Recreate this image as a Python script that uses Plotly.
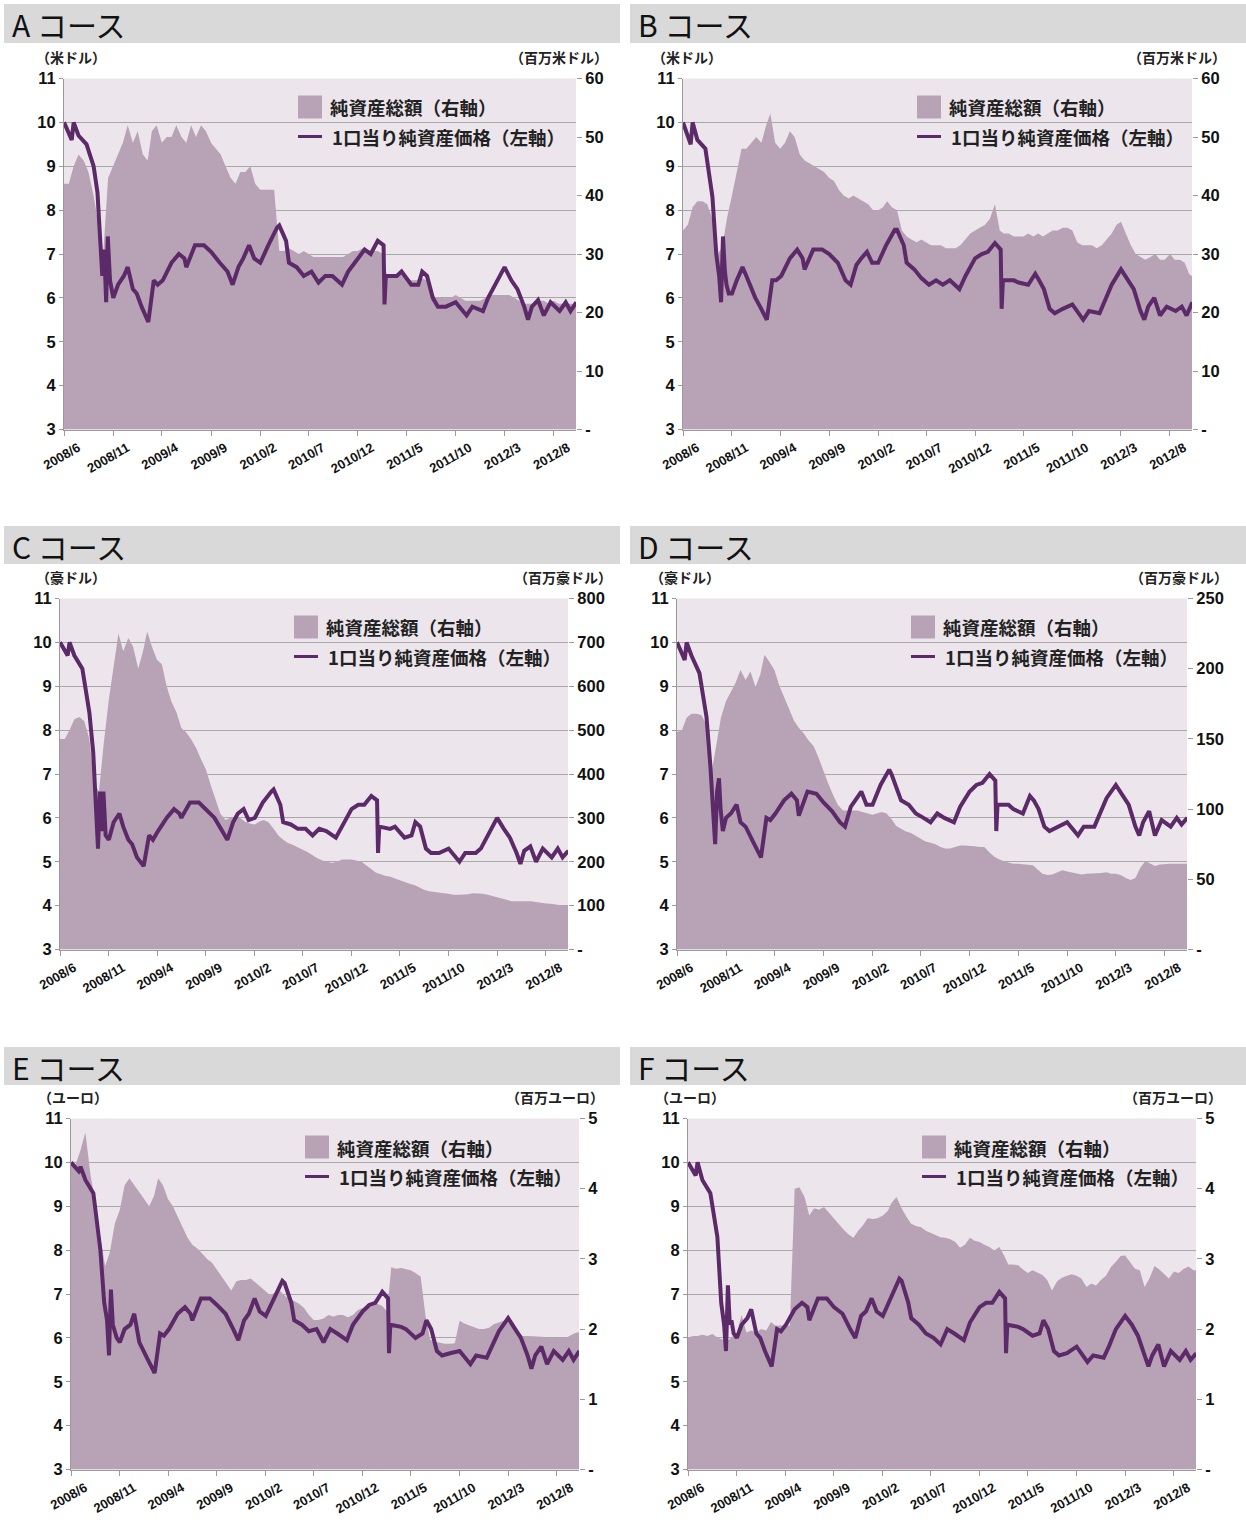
import plotly.graph_objects as go

# ---------------- data ----------------
tick_dates = ["2008-06-01", "2008-11-01", "2009-04-01", "2009-09-01", "2010-02-01", "2010-07-01",
              "2010-12-01", "2011-05-01", "2011-10-01", "2012-03-01", "2012-08-01"]
tick_labels = ["2008/6", "2008/11", "2009/4", "2009/9", "2010/2", "2010/7",
               "2010/12", "2011/5", "2011/10", "2012/3", "2012/8"]

courses = ["A", "B", "C", "D", "E", "F"]
legend_area = "純資産総額（右軸）"
legend_line = "1口当り純資産価格（左軸）"
unit_left = ["（米ドル）", "（米ドル）", "（豪ドル）", "（豪ドル）", "（ユーロ）", "（ユーロ）"]
unit_right = ["（百万米ドル）", "（百万米ドル）", "（百万豪ドル）", "（百万豪ドル）", "（百万ユーロ）", "（百万ユーロ）"]
right_ticks = [
    [0, 10, 20, 30, 40, 50, 60],
    [0, 10, 20, 30, 40, 50, 60],
    [0, 100, 200, 300, 400, 500, 600, 700, 800],
    [0, 50, 100, 150, 200, 250],
    [0, 1, 2, 3, 4, 5],
    [0, 1, 2, 3, 4, 5],
]
left_ticks = [3, 4, 5, 6, 7, 8, 9, 10, 11]

# dates of the NAV readings (per-unit net asset value, left axis)
nav_dates = [
    "2008-06-01", "2008-06-25", "2008-07-01", "2008-07-16", "2008-08-10", "2008-09-01", "2008-09-13", "2008-09-22", "2008-09-28", "2008-10-04",
    "2008-10-10", "2008-10-15", "2008-10-22", "2008-11-01", "2008-11-16", "2008-12-04", "2008-12-16", "2009-01-01", "2009-01-13", "2009-01-28",
    "2009-02-18", "2009-03-07", "2009-03-19", "2009-04-04", "2009-05-01", "2009-05-24", "2009-06-10", "2009-06-16", "2009-07-13", "2009-08-10",
    "2009-09-01", "2009-09-28", "2009-10-22", "2009-11-07", "2009-11-25", "2009-12-10", "2009-12-28", "2010-01-13", "2010-02-01", "2010-02-26",
    "2010-03-25", "2010-04-01", "2010-04-22", "2010-05-01", "2010-05-25", "2010-06-16", "2010-07-10", "2010-08-01", "2010-08-22", "2010-09-13",
    "2010-10-13", "2010-11-01", "2010-12-01", "2010-12-22", "2011-01-10", "2011-02-01", "2011-02-19", "2011-02-22", "2011-02-26", "2011-04-01",
    "2011-04-16", "2011-05-16", "2011-06-07", "2011-06-19", "2011-07-04", "2011-07-22", "2011-08-07", "2011-09-01", "2011-10-01", "2011-11-04",
    "2011-11-22", "2011-12-25", "2012-01-10", "2012-02-01", "2012-03-01", "2012-03-22", "2012-04-10", "2012-05-01", "2012-05-13", "2012-05-25",
    "2012-06-13", "2012-07-01", "2012-07-22", "2012-08-19", "2012-09-07", "2012-09-22", "2012-10-10",
]

nav_A = [10.0, 9.6, 10.0, 9.7, 9.5, 9.0, 8.4, 7.0, 6.5, 7.1,
         5.9, 7.4, 6.4, 6.0, 6.3, 6.5, 6.7, 6.2, 6.1, 5.8,
         5.45, 6.4, 6.3, 6.4, 6.8, 7.0, 6.9, 6.7, 7.2, 7.2,
         7.05, 6.8, 6.6, 6.3, 6.7, 6.9, 7.2, 6.9, 6.8, 7.2,
         7.6, 7.65, 7.3, 6.8, 6.7, 6.5, 6.6, 6.35, 6.5, 6.5,
         6.3, 6.6, 6.9, 7.1, 7.0, 7.3, 7.2, 5.85, 6.5, 6.5,
         6.6, 6.3, 6.3, 6.6, 6.5, 6.0, 5.8, 5.8, 5.9, 5.6,
         5.8, 5.7, 6.0, 6.3, 6.7, 6.4, 6.2, 5.8, 5.5, 5.8,
         5.95, 5.6, 5.9, 5.7, 5.9, 5.7, 5.9]
nav_B = [10.0, 9.5, 10.0, 9.6, 9.4, 8.3, 7.0, 6.5, 5.9, 7.4,
         6.6, 6.3, 6.1, 6.1, 6.4, 6.7, 6.5, 6.2, 6.0, 5.8,
         5.5, 6.4, 6.4, 6.5, 6.9, 7.1, 6.9, 6.65, 7.1, 7.1,
         7.0, 6.8, 6.4, 6.3, 6.75, 6.9, 7.05, 6.8, 6.8, 7.2,
         7.55, 7.55, 7.2, 6.8, 6.65, 6.45, 6.3, 6.4, 6.3, 6.4,
         6.2, 6.5, 6.9, 7.0, 7.05, 7.25, 7.1, 5.75, 6.4, 6.4,
         6.35, 6.3, 6.55, 6.4, 6.2, 5.75, 5.65, 5.75, 5.85, 5.5,
         5.7, 5.65, 5.95, 6.3, 6.65, 6.4, 6.2, 5.7, 5.5, 5.8,
         6.0, 5.6, 5.8, 5.7, 5.8, 5.6, 5.9]
nav_C = [10.0, 9.7, 10.0, 9.7, 9.4, 8.4, 7.5, 6.2, 5.3, 6.6,
         5.7, 6.6, 5.6, 5.5, 5.9, 6.1, 5.8, 5.5, 5.4, 5.1,
         4.9, 5.6, 5.5, 5.7, 6.0, 6.2, 6.1, 6.0, 6.35, 6.35,
         6.2, 6.0, 5.7, 5.5, 5.9, 6.1, 6.2, 5.95, 6.0, 6.35,
         6.6, 6.65, 6.3, 5.9, 5.85, 5.75, 5.75, 5.6, 5.75, 5.7,
         5.55, 5.8, 6.2, 6.3, 6.3, 6.5, 6.4, 5.2, 5.8, 5.75,
         5.8, 5.55, 5.6, 5.9, 5.8, 5.3, 5.2, 5.2, 5.3, 5.0,
         5.2, 5.2, 5.3, 5.6, 6.0, 5.75, 5.55, 5.2, 4.95, 5.25,
         5.35, 5.0, 5.3, 5.1, 5.3, 5.1, 5.25]
nav_D = [10.0, 9.6, 10.0, 9.7, 9.3, 8.3, 7.2, 6.0, 5.4, 6.6,
         6.9, 6.2, 5.7, 6.0, 6.1, 6.3, 5.9, 5.8, 5.6, 5.4,
         5.1, 6.0, 5.95, 6.1, 6.4, 6.55, 6.4, 6.05, 6.6, 6.55,
         6.35, 6.15, 5.9, 5.8, 6.25, 6.4, 6.6, 6.3, 6.3, 6.75,
         7.1, 7.0, 6.6, 6.4, 6.3, 6.1, 6.0, 5.9, 6.1, 6.0,
         5.9, 6.25, 6.6, 6.75, 6.8, 7.0, 6.85, 5.7, 6.3, 6.3,
         6.2, 6.1, 6.5, 6.4, 6.2, 5.8, 5.7, 5.8, 5.9, 5.6,
         5.8, 5.8, 6.1, 6.45, 6.75, 6.5, 6.3, 5.8, 5.6, 5.9,
         6.15, 5.6, 5.95, 5.8, 6.0, 5.85, 6.0]
nav_E = [10.0, 9.8, 9.9, 9.6, 9.3, 8.0, 6.8, 6.4, 5.6, 7.1,
         6.3, 6.2, 6.0, 5.9, 6.2, 6.3, 6.55, 5.9, 5.7, 5.5,
         5.2, 6.1, 6.05, 6.2, 6.55, 6.7, 6.55, 6.4, 6.9, 6.9,
         6.75, 6.55, 6.2, 5.95, 6.4, 6.55, 6.9, 6.6, 6.5, 6.9,
         7.3, 7.25, 6.8, 6.4, 6.3, 6.15, 6.2, 5.9, 6.2, 6.1,
         5.95, 6.3, 6.6, 6.75, 6.8, 7.05, 6.9, 5.65, 6.3, 6.25,
         6.2, 6.0, 6.1, 6.4, 6.2, 5.7, 5.6, 5.65, 5.7, 5.4,
         5.6, 5.55, 5.8, 6.15, 6.45, 6.2, 6.0, 5.6, 5.3, 5.6,
         5.8, 5.4, 5.7, 5.5, 5.7, 5.5, 5.7]
nav_F = [10.0, 9.7, 10.0, 9.6, 9.3, 8.3, 6.8, 6.3, 5.7, 7.2,
         6.3, 6.4, 6.1, 6.0, 6.3, 6.45, 6.65, 6.1, 6.0, 5.7,
         5.35, 6.2, 6.15, 6.3, 6.65, 6.8, 6.7, 6.4, 6.9, 6.9,
         6.7, 6.55, 6.2, 6.0, 6.5, 6.6, 6.9, 6.6, 6.5, 6.9,
         7.35, 7.3, 6.8, 6.45, 6.3, 6.1, 6.0, 5.85, 6.2, 6.1,
         5.95, 6.35, 6.7, 6.8, 6.8, 7.05, 6.9, 5.65, 6.3, 6.25,
         6.2, 6.05, 6.1, 6.4, 6.2, 5.7, 5.6, 5.65, 5.8, 5.45,
         5.6, 5.55, 5.8, 6.2, 6.5, 6.3, 6.05, 5.6, 5.35, 5.6,
         5.85, 5.35, 5.7, 5.5, 5.7, 5.5, 5.65]

# dates of the total-net-assets readings (1st and 16th of each month, right axis)
total_dates = []
for k in range(106):
    mi = 5 + k // 2
    total_dates.append(f"{2008 + mi // 12}-{mi % 12 + 1:02d}-{1 if k % 2 == 0 else 16:02d}")

total_A = [42, 42, 45, 47, 46, 44, 40, 35, 30, 43,
           45, 47, 49, 52, 49, 51, 47, 46, 51, 52,
           49, 50, 50, 52, 50, 49, 52, 50, 52, 51,
           49, 48, 47, 45, 43, 42, 44, 44, 45, 42,
           41, 41, 41, 41, 30.5, 30.5, 31, 30.5, 30, 30.5,
           30, 29.5, 29.5, 29.5, 29.5, 29.5, 29.5, 29.5, 30, 30.5,
           30.5, 31, 30.5, 30.5, 30.5, 30, 26.5, 26.5, 26.5, 26.5,
           26, 25.5, 25.5, 26, 25.5, 23.5, 22.5, 22.5, 22.5, 22.5,
           23, 22.5, 22, 22, 22, 22, 22.5, 23, 23, 23,
           23, 23, 22.5, 22, 21.5, 21.5, 21.5, 22, 22, 21.5,
           22, 21.5, 21.5, 21.5, 21.5, 21.5]
total_B = [34, 35, 38, 39, 39, 38.5, 36, 30, 31, 36,
           40, 44, 48, 48, 49, 50, 49, 52, 54, 49,
           48, 49, 51, 50, 47, 46, 45.5, 45, 44.5, 44,
           43, 42.5, 41, 40, 39.5, 40, 39.5, 39, 38.5, 37.5,
           37.5, 38, 39, 38, 37.5, 34, 33, 32.5, 32, 32.5,
           32, 31.5, 31.5, 31.5, 31, 31, 31, 31.5, 32.5, 33.5,
           34, 34.5, 35, 36, 38.5, 34, 33.5, 33.5, 33, 33,
           33, 33.5, 33, 33.5, 33, 33.5, 34, 34, 34.5, 34.5,
           34, 32, 31.5, 31.5, 31.5, 31, 31.5, 32.5, 33.5, 35,
           35.5, 33.5, 31.5, 30, 29.5, 29, 29.5, 30, 29, 29,
           30, 29, 29, 28.5, 26.5, 26]
total_C = [480, 480, 500, 525, 530, 520, 480, 380, 360, 470,
           570, 640, 720, 680, 710, 690, 640, 680, 725, 690,
           660, 650, 600, 565, 540, 505, 495, 480, 460, 435,
           410, 375, 340, 310, 295, 300, 300, 300, 292, 287,
           285, 292, 295, 290, 275, 260, 250, 243, 238, 233,
           228, 222, 215, 208, 203, 200, 197, 200, 205, 205,
           205, 203, 200, 192, 183, 175, 172, 168, 166, 162,
           158, 153, 150, 147, 142, 136, 133, 131, 130, 128,
           127, 125, 125, 125, 126, 128, 128, 127, 125, 122,
           118, 115, 112, 110, 110, 110, 110, 110, 108, 106,
           105, 104, 102, 101, 100, 100]
total_D = [155, 156, 165, 168, 168, 167, 160, 125, 145, 165,
           177, 183, 190, 199, 192, 198, 187, 196, 210, 205,
           199, 188, 180, 172, 163, 158, 154, 149, 145, 137,
           127, 118, 110, 103, 99, 99, 99, 99, 98, 97,
           96, 97, 98, 97, 93, 88, 86, 84, 83, 81,
           79, 77, 76, 75, 73, 72, 72, 73, 74, 74,
           73.5, 73.5, 73, 73, 69, 66, 64.5, 63, 62, 61,
           61, 60.5, 60, 60, 57, 54, 53, 53.5, 55, 56.5,
           55.5, 55, 54, 53.5, 54, 54, 54, 54.5, 55, 54,
           54, 53, 51, 49.5, 51, 58, 63, 61, 59.5, 60.5,
           61, 61, 61, 61, 61, 61]
total_E = [4.35, 4.35, 4.55, 4.8, 4.2, 3.8, 3.3, 2.9, 3.1, 3.5,
           3.7, 4.05, 4.15, 4.05, 3.95, 3.85, 3.75, 3.9, 4.15, 4.05,
           3.85, 3.75, 3.6, 3.45, 3.3, 3.2, 3.15, 3.08, 3.0, 2.95,
           2.85, 2.75, 2.65, 2.55, 2.68, 2.7, 2.7, 2.72, 2.66, 2.6,
           2.55, 2.48, 2.52, 2.55, 2.48, 2.43, 2.4, 2.36, 2.3, 2.2,
           2.13, 2.13, 2.15, 2.2, 2.18, 2.2, 2.2, 2.17, 2.2, 2.27,
           2.3, 2.32, 2.33, 2.36, 2.33, 2.25, 2.88, 2.86, 2.87, 2.85,
           2.84, 2.8, 2.75, 2.2, 1.85, 1.82, 1.8, 1.79, 1.79, 1.8,
           2.12, 2.08, 2.05, 2.03, 2.0, 2.0, 2.02, 2.07, 2.1, 2.12,
           2.1, 2.02, 1.97, 1.9, 1.9, 1.9, 1.89, 1.89, 1.88, 1.87,
           1.88, 1.88, 1.88, 1.92, 1.95, 1.95]
total_F = [1.88, 1.9, 1.9, 1.92, 1.9, 1.93, 1.88, 1.85, 1.83, 1.88,
           1.95, 2.2, 1.95, 1.98, 1.95, 2.0, 1.98, 2.1, 2.05, 2.05,
           2.05, 2.05, 4.0, 4.02, 3.88, 3.62, 3.72, 3.7, 3.74, 3.66,
           3.57, 3.5, 3.42, 3.35, 3.3, 3.4, 3.48, 3.58, 3.57, 3.58,
           3.62, 3.68, 3.8, 3.88, 3.72, 3.6, 3.5, 3.47, 3.45, 3.4,
           3.37, 3.34, 3.31, 3.3, 3.28, 3.24, 3.16, 3.2, 3.3, 3.26,
           3.24, 3.2, 3.17, 3.12, 3.17, 3.05, 2.92, 2.92, 2.91, 2.85,
           2.8, 2.84, 2.8, 2.77, 2.7, 2.55, 2.68, 2.73, 2.76, 2.78,
           2.76, 2.72, 2.6, 2.65, 2.62, 2.7, 2.76, 2.88, 2.96, 3.04,
           3.05, 2.95, 2.86, 2.84, 2.6, 2.72, 2.9, 2.85, 2.78, 2.72,
           2.82, 2.8, 2.86, 2.89, 2.84, 2.84]

navs = [nav_A, nav_B, nav_C, nav_D, nav_E, nav_F]
totals = [total_A, total_B, total_C, total_D, total_E, total_F]

# ---------------- layout / style ----------------
W, H = 1246, 1522
AREA = "#b8a3b6"
LINE = "#5c2a68"
BG = "#ece5ec"
GRID = "#a8a8a8"
AXC = "#9a9a9a"
NUMFONT = "Liberation Sans, Arial, sans-serif"
JPFONT = "Noto Sans CJK JP, sans-serif"

# plot rectangles (left, right, top, bottom) in pixels
geom = [
    (64, 576, 78.5, 429.5),
    (683, 1192, 78.5, 429.5),
    (60, 568, 598.5, 949.5),
    (677, 1187, 598.5, 949.5),
    (71, 579, 1118.5, 1469.5),
    (688, 1196, 1118.5, 1469.5),
]
bands = [
    (4, 620, 4, 43), (630, 1246, 4, 43),
    (4, 620, 526, 564), (630, 1246, 526, 564),
    (4, 620, 1047, 1085), (630, 1246, 1047, 1085),
]
unit_pos = [
    (34, 610, 57), (650, 1228, 57),
    (34, 614, 577), (648, 1230, 577),
    (36, 606, 1097), (653, 1224, 1097),
]


def fx(x):
    return x / W


def fy(y):
    return 1 - y / H


fig = go.Figure()
lay = {}
shapes = []
annots = []

for i in range(6):
    L, R, T, B = geom[i]
    xn = "x" if i == 0 else f"x{i+1}"
    xk = "xaxis" if i == 0 else f"xaxis{i+1}"
    yb_n = "y" if i == 0 else f"y{2*i+1}"
    yb_k = "yaxis" if i == 0 else f"yaxis{2*i+1}"
    yo_n = f"y{2*i+2}"
    yo_k = f"yaxis{2*i+2}"

    fig.add_trace(go.Scatter(
        x=total_dates, y=totals[i], xaxis=xn, yaxis=yb_n, mode="lines",
        line=dict(width=0, color=AREA), fill="tozeroy", fillcolor=AREA,
        name=legend_area, showlegend=False, hoverinfo="skip"))
    fig.add_trace(go.Scatter(
        x=nav_dates, y=navs[i], xaxis=xn, yaxis=yo_n, mode="lines",
        line=dict(width=4, color=LINE), name=legend_line, showlegend=False))

    rt = right_ticks[i]
    lay[xk] = dict(
        domain=[fx(L), fx(R)], anchor=yb_n, type="date", automargin=False,
        range=["2008-06-01", "2012-10-09"],
        tickmode="array", tickvals=tick_dates, ticktext=tick_labels,
        tickangle=-30, ticklabelshift=14,
        tickfont=dict(family=NUMFONT, size=13, color="#111", weight="bold"),
        ticks="outside", ticklen=5, tickcolor=AXC,
        showline=True, linecolor=AXC, linewidth=1,
        showgrid=False, zeroline=False, fixedrange=True)
    lay[yb_k] = dict(
        domain=[fy(B), fy(T)], anchor=xn, side="right", automargin=False,
        range=[0, rt[-1]], tickmode="array", tickvals=rt,
        ticktext=["-"] + [str(v) for v in rt[1:]],
        tickfont=dict(family=NUMFONT, size=16.5, color="#111", weight="bold"),
        ticks="outside", ticklen=5, tickcolor=AXC,
        showline=False, showgrid=False, zeroline=False, fixedrange=True)
    lay[yo_k] = dict(
        overlaying=yb_n, anchor=xn, side="left", automargin=False,
        range=[3, 11], tickmode="array", tickvals=left_ticks,
        ticktext=[str(v) for v in left_ticks],
        tickfont=dict(family=NUMFONT, size=16.5, color="#111", weight="bold"),
        ticks="outside", ticklen=4, tickcolor=AXC,
        showline=True, linecolor=AXC, linewidth=1,
        showgrid=True, gridcolor=GRID, gridwidth=1,
        zeroline=False, fixedrange=True)

    # header band
    bx0, bx1, by0, by1 = bands[i]
    shapes.append(dict(type="rect", xref="paper", yref="paper",
                       x0=fx(bx0), x1=fx(bx1), y0=fy(by1), y1=fy(by0),
                       fillcolor="#d9d9d9", line=dict(width=0), layer="below"))
    annots.append(dict(xref="paper", yref="paper", x=fx(bx0 + 6), y=fy((by0 + by1) / 2 + 1),
                       xanchor="left", yanchor="middle", showarrow=False,
                       text=f"{courses[i]} コース",
                       font=dict(family=JPFONT, size=30, color="#111")))

    # units
    ulx, urx, uy = unit_pos[i]
    annots.append(dict(xref="paper", yref="paper", x=fx(ulx), y=fy(uy),
                       xanchor="left", yanchor="middle", showarrow=False,
                       text=unit_left[i],
                       font=dict(family=JPFONT, size=14, color="#222", weight="bold")))
    annots.append(dict(xref="paper", yref="paper", x=fx(urx), y=fy(uy),
                       xanchor="right", yanchor="middle", showarrow=False,
                       text=unit_right[i],
                       font=dict(family=JPFONT, size=14, color="#222", weight="bold")))

    # legend (drawn)
    sx = L + 234
    shapes.append(dict(type="rect", xref="paper", yref="paper",
                       x0=fx(sx), x1=fx(sx + 24), y0=fy(T + 40), y1=fy(T + 17),
                       fillcolor=AREA, line=dict(width=0)))
    shapes.append(dict(type="line", xref="paper", yref="paper",
                       x0=fx(sx), x1=fx(sx + 24), y0=fy(T + 58), y1=fy(T + 58),
                       line=dict(color=LINE, width=3)))
    annots.append(dict(xref="paper", yref="paper", x=fx(L + 264), y=fy(T + 29),
                       xanchor="left", yanchor="middle", showarrow=False,
                       text=legend_area,
                       font=dict(family=JPFONT, size=18.5, color="#222", weight="bold")))
    annots.append(dict(xref="paper", yref="paper", x=fx(L + 266), y=fy(T + 58),
                       xanchor="left", yanchor="middle", showarrow=False,
                       text=legend_line,
                       font=dict(family=JPFONT, size=18.5, color="#222", weight="bold")))

fig.update_layout(
    width=W, height=H, margin=dict(l=0, r=0, t=0, b=0, pad=0, autoexpand=False),
    paper_bgcolor="white", plot_bgcolor=BG, showlegend=False,
    shapes=shapes, annotations=annots, **lay)

fig.write_html("out.html", config={"displayModeBar": False},
               post_script="document.body.style.margin='0';document.body.style.overflow='hidden';")
